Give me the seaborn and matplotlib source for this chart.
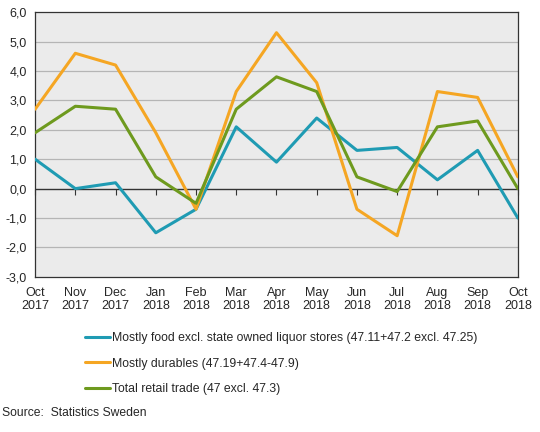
import numpy as np
import pandas as pd
import seaborn as sns
import matplotlib.pyplot as plt

months = ["Oct\n2017", "Nov\n2017", "Dec\n2017", "Jan\n2018", "Feb\n2018", "Mar\n2018", "Apr\n2018",
          "May\n2018", "Jun\n2018", "Jul\n2018", "Aug\n2018", "Sep\n2018", "Oct\n2018"]
food = [1.0, 0.0, 0.2, -1.5, -0.7, 2.1, 0.9, 2.4, 1.3, 1.4, 0.3, 1.3, -1.0]
durables = [2.7, 4.6, 4.2, 1.9, -0.7, 3.3, 5.3, 3.6, -0.7, -1.6, 3.3, 3.1, 0.4]
total = [1.9, 2.8, 2.7, 0.4, -0.5, 2.7, 3.8, 3.3, 0.4, -0.1, 2.1, 2.3, 0.0]
series_names = ["Mostly food excl. state owned liquor stores (47.11+47.2 excl. 47.25)",
                "Mostly durables (47.19+47.4-47.9)",
                "Total retail trade (47 excl. 47.3)"]
colors = ["#1f9bb3", "#f5a623", "#6e9a1e"]

rows = []
for name, vals in zip(series_names, [food, durables, total]):
    for i, v in enumerate(vals):
        rows.append({"x": i, "value": v, "series": name})
df = pd.DataFrame(rows)

sns.set_style("white")
plt.rcParams['font.family'] = ['Liberation Sans', 'DejaVu Sans']
plt.rcParams['font.size'] = 9

fig = plt.figure(figsize=(5.4, 4.32), dpi=100)
ax = fig.add_axes([0.065, 0.359, 0.894, 0.613])
ax.set_facecolor("#ebebeb")

ymin, ymax = -3, 6
for y in range(ymin + 1, ymax):
    if y != 0:
        ax.axhline(y, color="#b5b5b5", lw=0.9, zorder=0)
ax.axhline(0, color="#333333", lw=1.0, zorder=1)

sns.lineplot(data=df, x="x", y="value", hue="series", palette=colors, lw=2.2, ax=ax,
             legend=False, zorder=3)

ax.set_xlim(0, len(months) - 1)
ax.set_ylim(ymin, ymax)
ax.set_xticks(range(len(months)))
ax.set_xticklabels(months, fontsize=9, linespacing=1.15)
ax.tick_params(axis="x", length=0, pad=7)
yt = list(range(ymin, ymax + 1))
ax.set_yticks(yt)
ax.set_yticklabels([f"{v:.1f}".replace(".", ",") for v in yt], fontsize=9)
ax.tick_params(axis="y", length=4, width=0.8, color="#333333", direction="out", pad=2)
ax.set_xlabel("")
ax.set_ylabel("")
for s in ax.spines.values():
    s.set_color("#333333")
    s.set_linewidth(0.9)

# tick marks along the zero line
zero_pos = (0 - ymin) / (ymax - ymin)
sec = ax.secondary_xaxis(zero_pos)
sec.set_xticks(range(len(months)))
sec.set_xticklabels([])
sec.tick_params(axis="x", length=4, width=0.8, color="#333333", direction="out")
sec.spines["bottom"].set_visible(False)

handles = [plt.Line2D([], [], color=c, lw=2.2) for c in colors]
fig.legend(handles, series_names, loc="upper left", bbox_to_anchor=(0.147, 0.246),
           frameon=False, fontsize=8.8, handlelength=2.0, handletextpad=0.2,
           labelspacing=1.12, borderpad=0)

fig.text(0.004, 0.044, "Source:  Statistics Sweden", fontsize=8.7, ha="left", va="center")

fig.savefig("out.png", dpi=100)
